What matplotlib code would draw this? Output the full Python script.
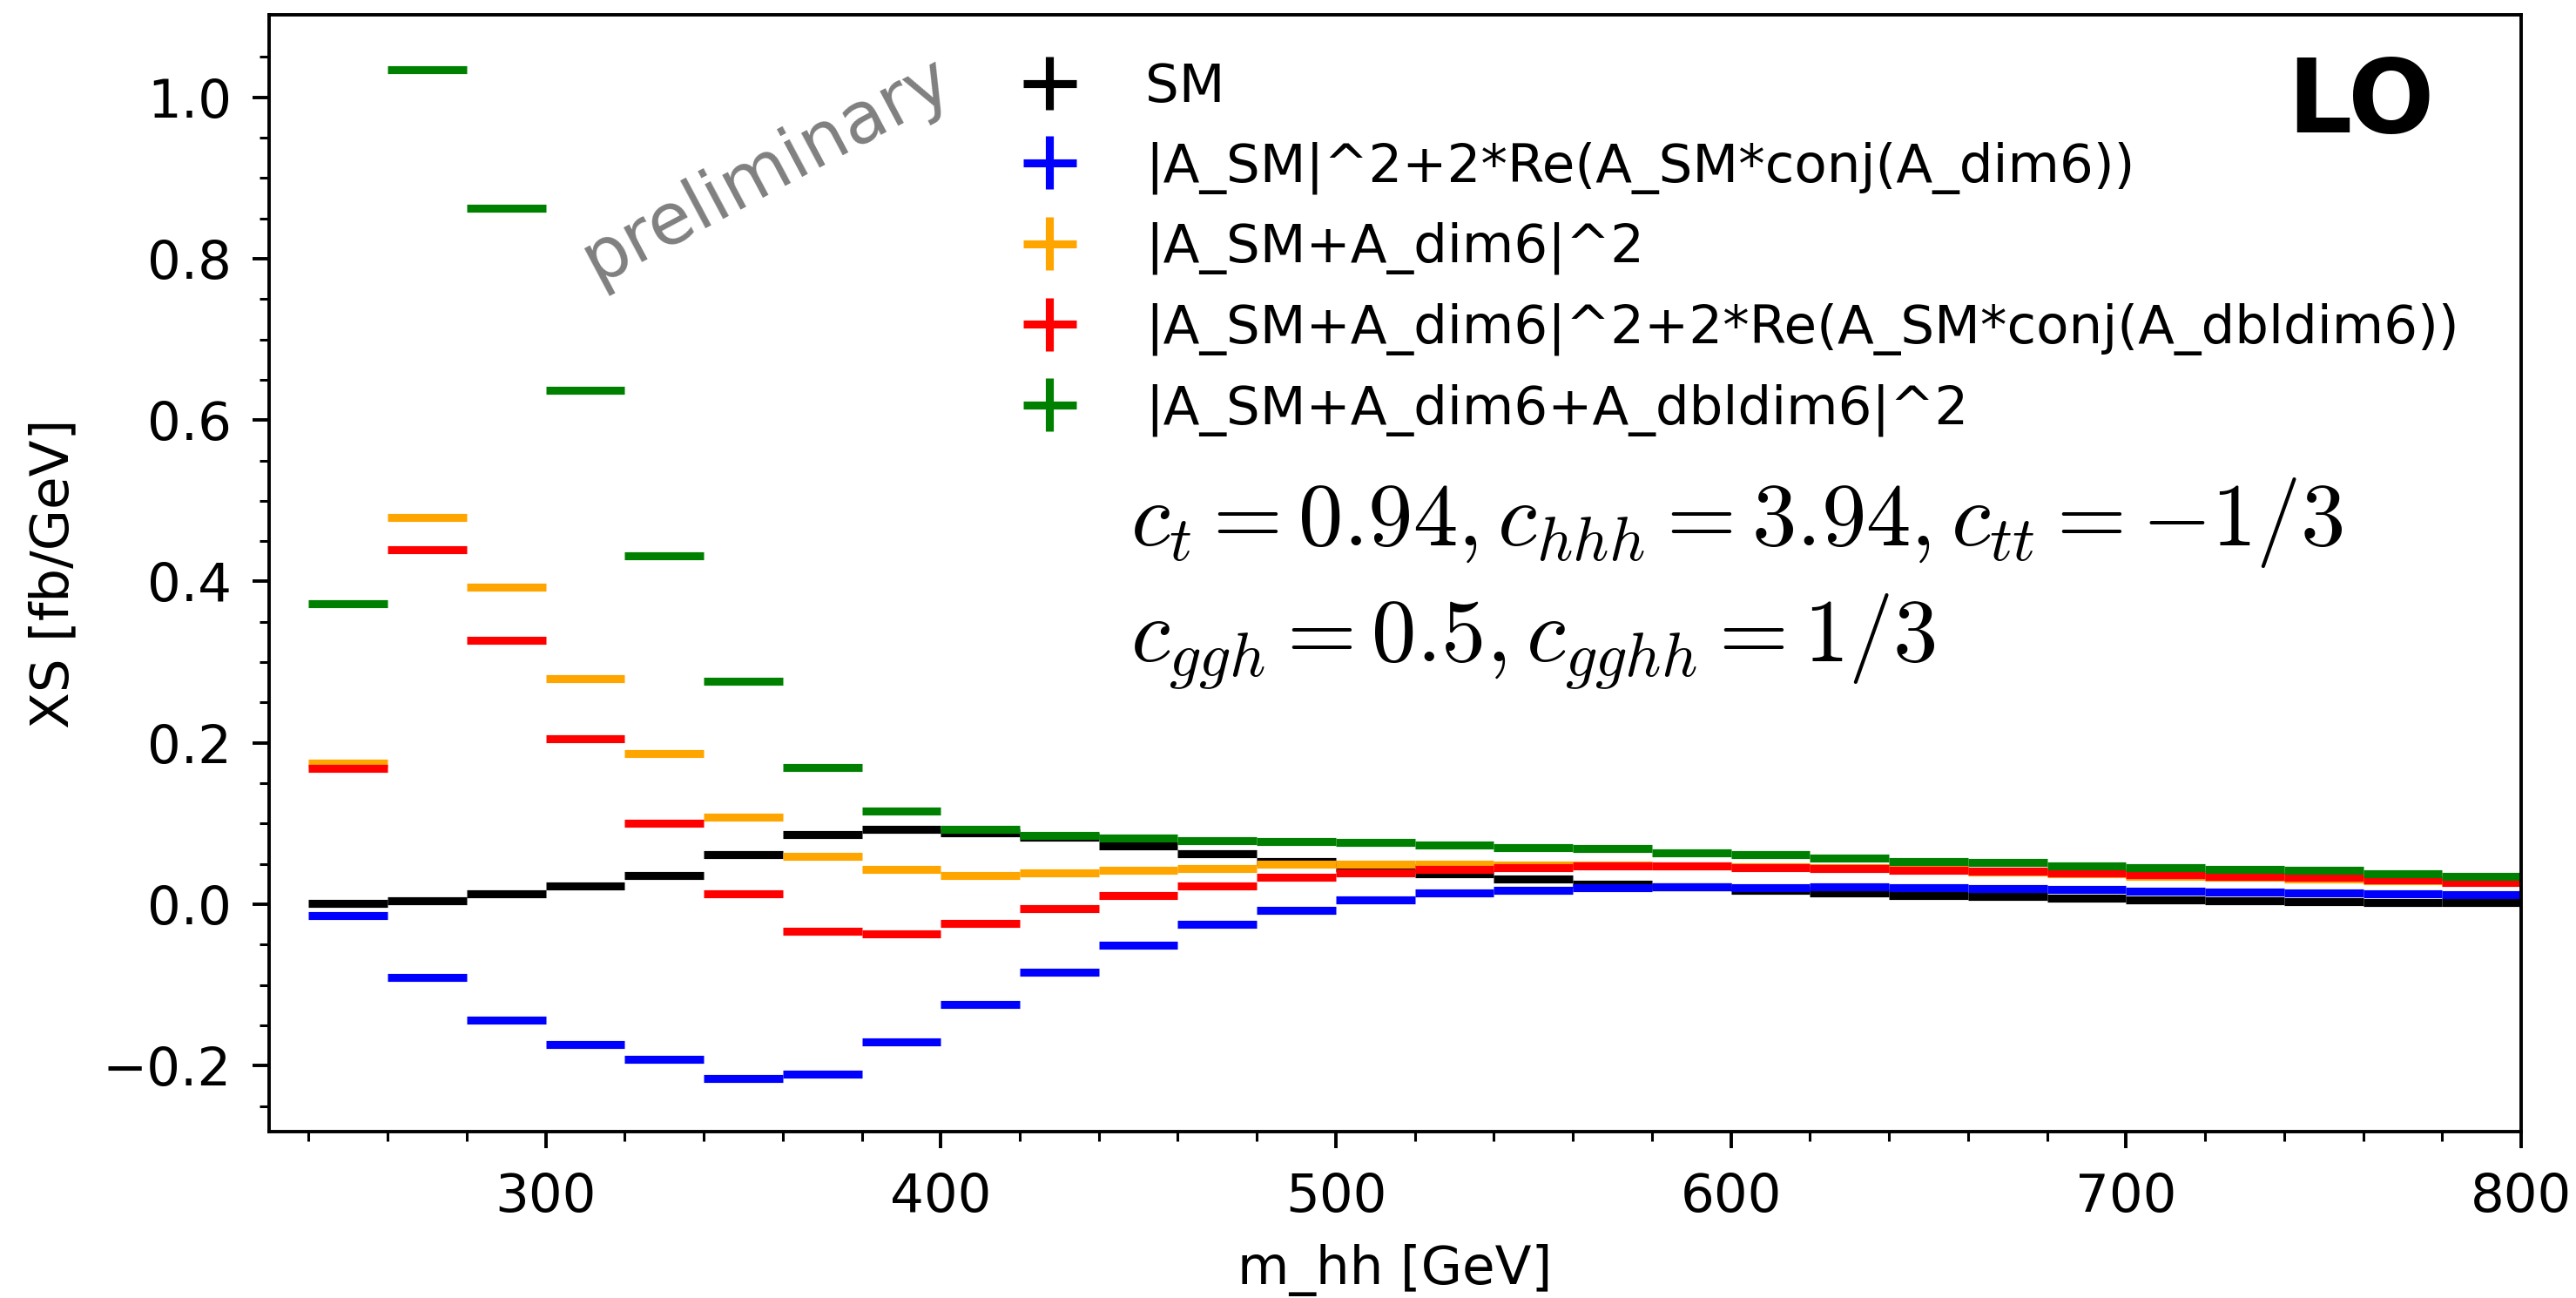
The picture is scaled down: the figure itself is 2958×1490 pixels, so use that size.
import numpy as np
import matplotlib
matplotlib.use("Agg")
import matplotlib.pyplot as plt

# ---- data ----
bin_centers = [250, 270, 290, 310, 330, 350, 370, 390, 410, 430, 450, 470, 490, 510,
               530, 550, 570, 590, 610, 630, 650, 670, 690, 710, 730, 750, 770, 790]
bin_half_width = 10

sm = [0.0014, 0.0048, 0.0134, 0.0225, 0.0359, 0.0612, 0.087, 0.093, 0.089, 0.083,
      0.072, 0.063, 0.053, 0.045, 0.038, 0.031, 0.025, 0.0216, 0.0175, 0.0143,
      0.0107, 0.0097, 0.0074, 0.0056, 0.0049, 0.0034, 0.0027, 0.002]
interf_dim6 = [-0.0134, -0.090, -0.1435, -0.174, -0.192, -0.2158, -0.210, -0.170,
               -0.124, -0.0836, -0.0501, -0.0249, -0.0069, 0.0053, 0.0143, 0.0172,
               0.0208, 0.0222, 0.0211, 0.0222, 0.0204, 0.0197, 0.0187, 0.0166,
               0.0155, 0.0137, 0.0126, 0.0115]
sq_dim6 = [0.175, 0.479, 0.393, 0.280, 0.187, 0.1077, 0.0598, 0.043, 0.0363, 0.0391,
           0.0420, 0.0445, 0.0496, 0.0497, 0.0494, 0.049, 0.049, 0.048, 0.047, 0.046,
           0.044, 0.0406, 0.0377, 0.0352, 0.0337, 0.0316, 0.0297, 0.028]
interf_dbl = [0.168, 0.439, 0.327, 0.205, 0.101, 0.0134, -0.033, -0.036, -0.0235,
              -0.0052, 0.0106, 0.0232, 0.0337, 0.0388, 0.0438, 0.0459, 0.0481, 0.0474,
              0.0459, 0.0442, 0.0424, 0.0417, 0.0388, 0.0366, 0.0344, 0.0337, 0.0301,
              0.0272]
sq_all = [0.373, 1.034, 0.862, 0.637, 0.432, 0.276, 0.170, 0.116, 0.0935, 0.0852,
          0.0818, 0.079, 0.0779, 0.0768, 0.074, 0.0704, 0.0687, 0.0643, 0.0622, 0.0571,
          0.0535, 0.0524, 0.0481, 0.0459, 0.0434, 0.0419, 0.0380, 0.0347]

labels = ["SM",
          "|A_SM|^2+2*Re(A_SM*conj(A_dim6))",
          "|A_SM+A_dim6|^2",
          "|A_SM+A_dim6|^2+2*Re(A_SM*conj(A_dbldim6))",
          "|A_SM+A_dim6+A_dbldim6|^2"]
colors = ["black", "blue", "orange", "red", "green"]
series = [sm, interf_dim6, sq_dim6, interf_dbl, sq_all]

# ---- figure ----
W, H, DPI = 2958, 1490, 200
plt.rcParams["mathtext.fontset"] = "cm"
fig = plt.figure(figsize=(W / DPI, H / DPI), dpi=DPI)
ax = fig.add_axes([309 / W, 1 - 1299 / H, (2895 - 309) / W, (1299 - 17) / H])

fs = 22
for vals, c, lab in zip(series, colors, labels):
    ax.errorbar(bin_centers, vals, xerr=bin_half_width, yerr=0.002, fmt="none",
                ecolor=c, elinewidth=3.3, label=lab)

ax.set_xlim(230, 800)
ax.set_ylim(-0.2815, 1.102)
ax.set_xticks([300, 400, 500, 600, 700, 800])
ax.set_xticks(np.arange(240, 801, 20), minor=True)
ax.set_yticks([-0.2, 0.0, 0.2, 0.4, 0.6, 0.8, 1.0])
ax.set_yticks(np.arange(-0.25, 1.1, 0.05), minor=True)
ax.tick_params(axis="both", which="major", labelsize=fs, length=7, width=1.4)
ax.tick_params(axis="both", which="minor", length=4, width=1.1)
ax.tick_params(axis="x", which="major", pad=9.5)
ax.tick_params(axis="y", which="major", pad=8.5)
for sp in ax.spines.values():
    sp.set_linewidth(1.4)

ax.set_xlabel("m_hh [GeV]", fontsize=fs)
ax.set_ylabel("XS [fb/GeV]", fontsize=fs)
ax.xaxis.set_label_coords(0.5, -0.1006)
ax.yaxis.set_label_coords(-0.0841, 0.5)

leg = ax.legend(loc="upper left", bbox_to_anchor=(0.3017, 1.0006), frameon=False,
                fontsize=fs, labelspacing=0.525)

ax.text(0.929, 0.920, "LO", transform=ax.transAxes, fontsize=42, fontweight="bold",
        ha="center", va="center")
ax.text(0.221, 0.861, "preliminary", transform=ax.transAxes, fontsize=29.5, color="gray",
        rotation=28, rotation_mode="anchor", ha="center", va="center")

ax.text(0.3825, 0.525, r"$c_t=0.94, c_{hhh}=3.94, c_{tt}=-1/3$", transform=ax.transAxes,
        fontsize=37, ha="left", va="baseline")
ax.text(0.3825, 0.421, r"$c_{ggh}=0.5, c_{gghh}=1/3$", transform=ax.transAxes,
        fontsize=37, ha="left", va="baseline")

fig.savefig("out.png", dpi=DPI)
